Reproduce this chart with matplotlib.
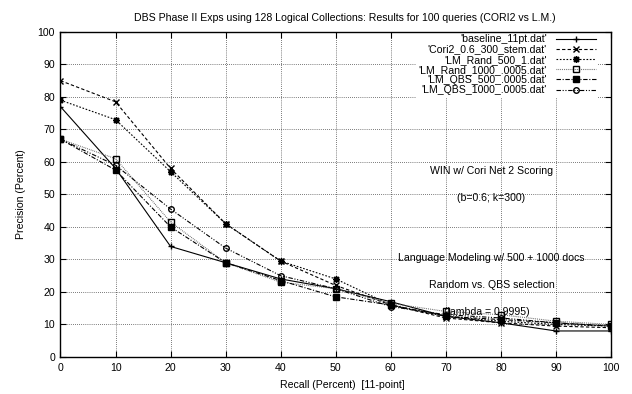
import matplotlib
matplotlib.use("Agg")
import matplotlib.pyplot as plt

plt.rcParams['font.family'] = ['Liberation Sans', 'DejaVu Sans']
plt.rcParams['font.size'] = 7.6

recall = [0, 10, 20, 30, 40, 50, 60, 70, 80, 90, 100]
baseline = [77, 58, 34, 29, 24, 21, 17, 12.5, 10.5, 8, 8]
cori2 = [85, 78.5, 58, 41, 29.5, 22, 16, 12, 10.5, 9.5, 9]
lm_rand_500 = [79, 73, 57, 41, 29.5, 24, 16, 12.5, 11, 10, 9.5]
lm_rand_1000 = [67, 61, 41.5, 29, 23, 21, 16.5, 14, 13, 11, 10]
lm_qbs_500 = [67, 57.5, 40, 29, 23.5, 18.5, 16, 12.5, 11.5, 10.5, 9.5]
lm_qbs_1000 = [67, 59, 45.5, 33.5, 25, 21, 15.5, 13, 12, 10.5, 9.5]

labels = ["'baseline_11pt.dat'", "'Cori2_0.6_300_stem.dat'", "'LM_Rand_500_1.dat'",
          "'LM_Rand_1000_.0005.dat'", "'LM_QBS_500_.0005.dat'", "'LM_QBS_1000_.0005.dat'"]
series = [baseline, cori2, lm_rand_500, lm_rand_1000, lm_qbs_500, lm_qbs_1000]

xticks = list(range(0, 101, 10))
yticks = list(range(0, 101, 10))

styles = [
    dict(ls='-', marker='+', ms=5, color='black', lw=0.8),
    dict(ls=(0, (3, 2)), marker='x', ms=4, color='black', lw=0.8),
    dict(ls=(0, (1.5, 1.5)), marker=(8, 2, 0), ms=5, color='black', lw=0.8),
    dict(ls=(0, (0.7, 1)), marker='s', ms=4.5, color='#555555', mfc='none', mec='black', lw=0.8),
    dict(ls=(0, (4, 1.5, 1, 1.5)), marker='s', ms=4.5, color='black', lw=0.8),
    dict(ls=(0, (4, 1.5, 1, 1.5, 1, 1.5)), marker='o', ms=4, mfc='none', color='black', lw=0.8),
]

fig = plt.figure(figsize=(6.32, 3.94), dpi=100)
ax = fig.add_axes([0.0957, 0.094, 0.871, 0.825])

for y, lab, st in zip(series, labels, styles):
    ax.plot(recall, y, label=lab, **st)

ax.set_xlim(0, 100)
ax.set_ylim(0, 100)
ax.set_xticks(xticks)
ax.set_yticks(yticks)
ax.tick_params(direction='in', length=4, width=0.8, top=True, right=True, pad=4)
ax.grid(True, ls=(0, (1, 2)), color='black', lw=0.5)
for s in ax.spines.values():
    s.set_linewidth(1.0)

ax.set_title('DBS Phase II Exps using 128 Logical Collections: Results for 100 queries (CORI2 vs L.M.)',
             fontsize=7.6, pad=8, x=0.517)
ax.set_xlabel('Recall (Percent)  [11-point]', labelpad=5)
ax.xaxis.set_label_coords(0.512, -0.07)
ax.set_ylabel('Precision (Percent)', labelpad=8)

leg = ax.legend(loc='upper right', markerfirst=False, frameon=True, fancybox=False,
                edgecolor='none', facecolor='white', framealpha=1.0,
                handlelength=3.8, handletextpad=0.8, labelspacing=0.02,
                borderpad=0.25, borderaxespad=1.2, fontsize=7.6)
leg.set_bbox_to_anchor((1.0, 1.04), transform=ax.transAxes)
leg.set_zorder(2.4)

ax.text(78.3, 57.2, 'WIN w/ Cori Net 2 Scoring', ha='center', va='center')
ax.text(78.3, 48.9, '(b=0.6; k=300)', ha='center', va='center')
ax.text(78.3, 30.5, 'Language Modeling w/ 500 + 1000 docs', ha='center', va='center')
ax.text(78.3, 22.2, 'Random vs. QBS selection', ha='center', va='center')
ax.text(77.5, 13.8, '(lambda = 0.9995)', ha='center', va='center')

fig.savefig('out.png', dpi=100)
